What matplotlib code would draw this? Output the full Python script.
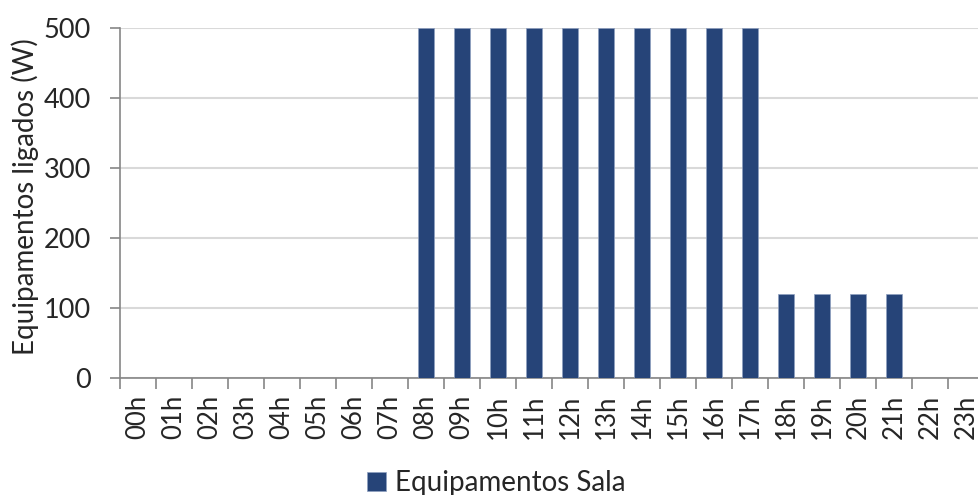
import matplotlib

matplotlib.use("Agg")
import matplotlib.pyplot as plt
import numpy as np

# hourly load of the room equipment
hours = [f"{h:02d}h" for h in range(24)]
power_w = [0, 0, 0, 0, 0, 0, 0, 0,
           500, 500, 500, 500, 500, 500, 500, 500, 500, 500,
           120, 120, 120, 120, 0, 0]
y_ticks = [0, 100, 200, 300, 400, 500]

plt.rcParams["font.family"] = ["Lato", "DejaVu Sans"]

fig = plt.figure(figsize=(9.79, 4.95), dpi=100)
W, H = 979, 495
# plot area runs a little past the right edge of the canvas
ax = fig.add_axes([120 / W, (H - 377.7) / H, 864 / W, (377.7 - 28) / H])

x = np.arange(len(hours))
ax.bar(x, power_w, width=0.42, color="#264478", edgecolor="#8fa0c0",
       linewidth=0.5, label="Equipamentos Sala", zorder=3)

ax.set_xlim(-0.5, len(hours) - 0.5)
ax.set_ylim(0, 500)
ax.set_yticks(y_ticks)
ax.set_xticks(np.arange(len(hours) + 1) - 0.5, minor=False)
ax.set_xticklabels([])
ax.set_xticks(x, minor=True)
ax.set_xticklabels(hours, minor=True, rotation=90)

ax.tick_params(axis="x", which="major", length=8, width=1.2, color="#868686")
ax.tick_params(axis="x", which="minor", length=0, pad=12,
               labelsize=18.5, labelcolor="#262626")
ax.tick_params(axis="y", length=7, width=1.2, color="#868686", pad=14,
               labelsize=19.5, labelcolor="#262626")

ax.grid(axis="y", color="#d9d9d9", linewidth=1.5, zorder=0)
for side in ("top", "right"):
    ax.spines[side].set_visible(False)
for side in ("left", "bottom"):
    ax.spines[side].set_color("#868686")
    ax.spines[side].set_linewidth(1.2)

ax.set_ylabel("Equipamentos ligados (W)", fontsize=20, color="#262626")
ax.yaxis.set_label_coords(39 / W, (H - 197) / H, transform=fig.transFigure)

fig.legend(loc="center", bbox_to_anchor=(496 / W, (H - 483) / H),
           frameon=False, fontsize=20, handlelength=0.7, handleheight=0.7,
           handletextpad=0.3, labelcolor="#262626")

fig.savefig("out.png", dpi=100)
plt.close(fig)
